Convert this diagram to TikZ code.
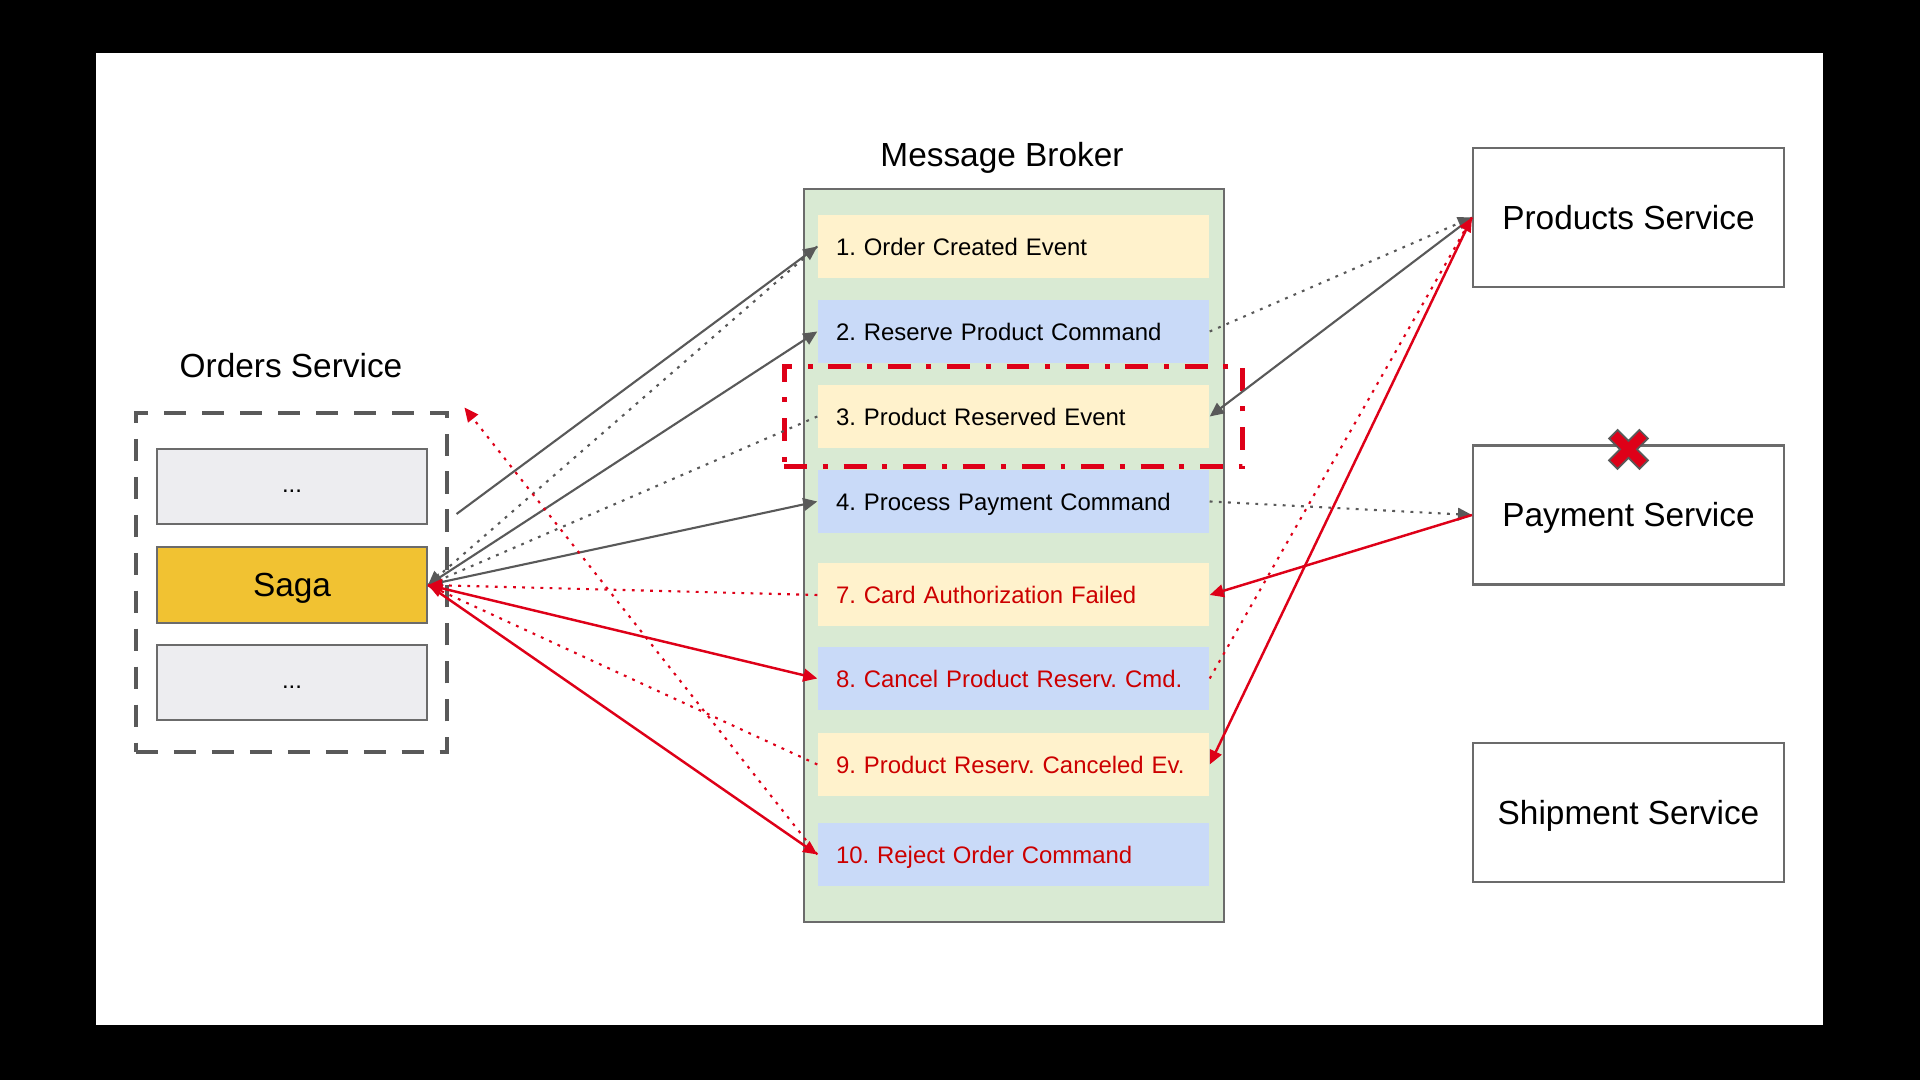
\documentclass[tikz,border=0pt]{standalone}
\usepackage{fontspec}
\setmainfont{Liberation Sans}
\usepackage{tikz}
\usetikzlibrary{positioning,calc,fit,arrows.meta}
\frenchspacing
\definecolor{lineGray}{HTML}{595959}
\definecolor{boxGray}{HTML}{6B6B6B}
\definecolor{lineRed}{RGB}{222,0,24}
\definecolor{textRed}{HTML}{CC0000}
\definecolor{msgY}{HTML}{FFF2CC}
\definecolor{msgB}{HTML}{C9DAF8}
\definecolor{brokerG}{HTML}{D9EAD3}
\definecolor{sagaY}{HTML}{F1C232}
\definecolor{dotsG}{HTML}{EDEDF0}
\tikzstyle{title} = [font=\fontsize{9.5}{11}\selectfont, text height=7.1pt, text depth=0.3pt]
\tikzstyle{item} = [minimum height=0.63cm, text width=3.55cm, inner xsep=0.18cm, align=left, font=\fontsize{6.8}{8}\selectfont, text height=5.1pt, text depth=0.25pt]
\tikzstyle{svc} = [draw=boxGray, line width=0.6pt, fill=white, minimum width=3.11cm, minimum height=1.39cm, title]
\tikzstyle{inner} = [draw=boxGray, line width=0.6pt, minimum width=2.70cm, minimum height=0.75cm]
\tikzstyle{dotsbox} = [inner, fill=dotsG, font=\fontsize{6.8}{8}\selectfont, text height=0.13cm, text depth=0pt]
\tikzstyle{arrow} = [-{Triangle[length=4pt,width=3.6pt]}, line width=0.6pt, lineGray]
\tikzstyle{dotarrow} = [arrow, dash pattern=on 0.8pt off 1.8pt]
\tikzstyle{redarrow} = [arrow, lineRed, line width=0.7pt]
\tikzstyle{reddot} = [dotarrow, lineRed]

\begin{document}
\begin{tikzpicture}
    % Frame
    \fill[black] (0,0) rectangle (19.2,10.8);
    \fill[white] (0.955,0.55) rectangle (18.233,10.273);
    \useasboundingbox (0,0) rectangle (19.2,10.8);
    % Orders service
    \node[title] (ordersTitle) at (2.91,7.14) {Orders Service};
    \node[draw=lineGray, line width=1.4pt, dash pattern=on 6.3pt off 4.5pt, minimum width=3.11cm, minimum height=3.39cm] (orders) at (2.915,4.975) {};
    \node[dotsbox] (dotsTop) at (2.92,5.935) {...};
    \node[inner, fill=sagaY, minimum height=0.76cm, title] (saga) at (2.92,4.95) {Saga};
    \node[dotsbox] (dotsBottom) at (2.92,3.975) {...};
    \coordinate (ordersOut) at ($(dotsTop.east)+(0.285,-0.275)$);
    \coordinate (ordersCorner) at ($(orders.north east)+(0.15,0.03)$);
    % Message broker
    \node[title] (brokerTitle) at (10.02,9.25) {Message Broker};
    \node[draw=boxGray, line width=0.6pt, fill=brokerG, minimum width=4.2cm, minimum height=7.33cm] (broker) at (10.14,5.245) {};
    \foreach \n/\y/\fc/\tc/\txt in {1/8.335/msgY/black/1. Order Created Event,
                                   2/7.485/msgB/black/2. Reserve Product Command,
                                   3/6.635/msgY/black/3. Product Reserved Event,
                                   4/5.785/msgB/black/4. Process Payment Command,
                                   7/4.85/msgY/textRed/7. Card Authorization Failed,
                                   8/4.015/msgB/textRed/8. Cancel Product Reserv. Cmd.,
                                   9/3.155/msgY/textRed/9. Product Reserv. Canceled Ev.,
                                   10/2.255/msgB/textRed/10. Reject Order Command}
        \node[item, fill=\fc, text=\tc] (m\n) at (10.135,\y) {\txt};
    \node[fit=(m3), inner xsep=0.33cm, inner ysep=0.18cm, draw=lineRed, line width=1.4pt,
          dash pattern=on 6.5pt off 4.5pt on 1.4pt off 4.5pt] (focus) {};
    % Other services
    \node[svc] (products) at (16.285,8.625) {Products Service};
    \node[svc] (payment) at (16.285,5.65) {Payment Service};
    \node[svc] (shipment) at (16.285,2.675) {Shipment Service};
    % Happy path
    \draw[arrow] (ordersOut) -- (m1.west);
    \draw[dotarrow] (m1.west) -- (saga.east);
    \draw[arrow] (saga.east) -- (m2.west);
    \draw[dotarrow] (m2.east) -- (products.west);
    \draw[arrow] (products.west) -- (m3.east);
    \draw[dotarrow] (m3.west) -- (saga.east);
    \draw[arrow] (saga.east) -- (m4.west);
    \draw[dotarrow] (m4.east) -- (payment.west);
    % Compensation
    \draw[redarrow] (payment.west) -- (m7.east);
    \draw[reddot] (m7.west) -- (saga.east);
    \draw[redarrow] (saga.east) -- (m8.west);
    \draw[reddot] (m8.east) -- (products.west);
    \draw[redarrow] (products.west) -- (m9.east);
    \draw[reddot] (m9.west) -- (saga.east);
    \draw[redarrow] (saga.east) -- (m10.west);
    \draw[reddot] (m10.west) -- (ordersCorner);
    % Failure mark
    \begin{scope}[shift={($(payment.north)+(0,-0.05)$)}, rotate=45]
        \filldraw[fill=lineRed, draw=lineGray, line width=0.5pt]
            (-0.06,0.215) -- (0.06,0.215) -- (0.06,0.06) -- (0.215,0.06) -- (0.215,-0.06) -- (0.06,-0.06)
            -- (0.06,-0.215) -- (-0.06,-0.215) -- (-0.06,-0.06) -- (-0.215,-0.06) -- (-0.215,0.06) -- (-0.06,0.06) -- cycle;
    \end{scope}
\end{tikzpicture}
\end{document}
